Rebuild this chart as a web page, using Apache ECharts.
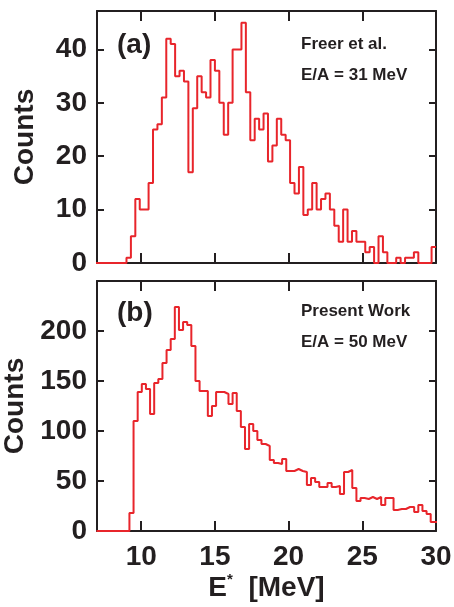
<!DOCTYPE html>
<html>
<head>
<meta charset="utf-8">
<script src="https://cdn.jsdelivr.net/npm/echarts@6/dist/echarts.min.js"></script>
<style>
  html, body { margin: 0; padding: 0; background: #fff; }
  #main { width: 454px; height: 607px; }
</style>
</head>
<body>
<div id="main"></div>
<script>
// x range shared by both panels
const xMin = 7
const xMax = 30
const xTicks = [10, 15, 20, 25, 30]

// panel (a): Freer et al., 0.3 MeV bins
const binStartA = 6.9
const binWidthA = 0.3
const countsA = [
  0, 0, 0, 0, 0, 0, 0,
  1, 5, 12, 10, 10, 15, 25, 26, 31, 42,
  41, 35, 36, 34, 17, 29, 35, 32, 31, 38,
  36, 30, 24, 30, 40, 40, 45, 32, 23, 27,
  25, 28, 19, 22, 27, 24, 23, 15, 13, 18,
  9, 10, 15, 10, 12, 13, 10, 7, 4, 10,
  4, 6, 4, 4, 2, 3, 0, 5, 2, 0,
  0, 1, 0, 1, 1, 2, 0, 0, 0, 3
]

// panel (b): present work, 0.28 MeV bins
const binStartB = 6.96
const binWidthB = 0.28
const countsB = [
  0, 0, 0, 0, 0, 0, 0, 0,
  18, 110, 139, 147, 142, 117, 148, 152, 168, 181,
  192, 224, 201, 209, 206, 185, 150, 140, 140, 115,
  125, 139, 139, 137, 127, 138, 120, 104, 82, 107,
  100, 91, 87, 85, 71, 68, 67, 72, 60, 60,
  62, 60, 59, 46, 53, 49, 44, 44, 48, 44,
  45, 37, 59, 61, 43, 30, 33, 32, 34, 32,
  34, 26, 33, 33, 21, 22, 22, 24, 24, 19,
  26, 20, 17, 9, 9
]

const yMaxA = 47.2
const yMaxB = 250

const ink = '#231f20'
const red = '#e8252b'
const font = 'Liberation Sans, Arial, sans-serif'

// left edge of every bin + closing point so the last step is drawn
function histPoints(start, width, counts) {
  const pts = counts.map((c, i) => [+(start + i * width).toFixed(3), c])
  pts.push([+(start + counts.length * width).toFixed(3), counts[counts.length - 1]])
  return pts
}

function xAxisFor(gridIndex, position, showLabels, name) {
  return {
    type: 'value',
    gridIndex,
    position,
    min: xMin,
    max: xMax,
    name: name || '',
    nameLocation: 'middle',
    nameGap: 36,
    nameTextStyle: {
      fontFamily: font, fontSize: 28, fontWeight: 'bold', color: ink,
      rich: {
        sup: { fontFamily: font, fontSize: 15, fontWeight: 'bold', color: ink, verticalAlign: 'top', padding: [0, 0, 18, 0] }
      }
    },
    axisLine: { show: true, onZero: false, lineStyle: { color: ink, width: 2 } },
    axisTick: { show: true, inside: true, length: 10, customValues: xTicks, lineStyle: { color: ink, width: 2 } },
    axisLabel: {
      show: showLabels, customValues: xTicks, margin: 12,
      fontFamily: font, fontSize: 28, fontWeight: 'bold', color: ink
    },
    splitLine: { show: false }
  }
}

function yAxisFor(gridIndex, position, showLabels, max, interval) {
  return {
    type: 'value',
    gridIndex,
    position,
    min: 0,
    max,
    interval,
    name: showLabels ? 'Counts' : '',
    nameLocation: 'middle',
    nameRotate: 90,
    nameGap: 58,
    nameTextStyle: { fontFamily: font, fontSize: 28, fontWeight: 'bold', color: ink },
    axisLine: { show: true, onZero: false, lineStyle: { color: ink, width: 2 } },
    axisTick: { show: true, inside: true, length: 7, lineStyle: { color: ink, width: 2 } },
    axisLabel: {
      show: showLabels, margin: 10, showMaxLabel: false,
      fontFamily: font, fontSize: 28, fontWeight: 'bold', color: ink
    },
    splitLine: { show: false }
  }
}

function label(x, y, text, size) {
  return {
    type: 'text',
    left: x,
    top: y,
    style: { text, fontFamily: font, fontSize: size, fontWeight: 'bold', fill: ink }
  }
}

const chart = echarts.init(document.getElementById('main'))

chart.setOption({
  animation: false,
  grid: [
    { left: 97, right: 18, top: 11, height: 252, outerBoundsMode: 'none', containLabel: false },
    { left: 97, right: 18, top: 281, height: 250, outerBoundsMode: 'none', containLabel: false }
  ],
  xAxis: [
    xAxisFor(0, 'bottom', false),
    xAxisFor(0, 'top', false),
    xAxisFor(1, 'bottom', true, 'E{sup|*}  [MeV]'),
    xAxisFor(1, 'top', false)
  ],
  yAxis: [
    yAxisFor(0, 'left', true, yMaxA, 10),
    yAxisFor(0, 'right', false, yMaxA, 10),
    yAxisFor(1, 'left', true, yMaxB, 50),
    yAxisFor(1, 'right', false, yMaxB, 50)
  ],
  graphic: [
    label(117, 31, '(a)', 28),
    label(301, 36, 'Freer et al.', 17),
    label(301, 67, 'E/A = 31 MeV', 17),
    label(117, 299, '(b)', 28),
    label(301, 303, 'Present Work', 17),
    label(301, 334, 'E/A = 50 MeV', 17)
  ],
  series: [
    {
      type: 'line',
      xAxisIndex: 0,
      yAxisIndex: 0,
      step: 'end',
      symbol: 'none',
      silent: true,
      clip: true,
      lineStyle: { color: red, width: 2 },
      data: histPoints(binStartA, binWidthA, countsA)
    },
    {
      type: 'line',
      xAxisIndex: 2,
      yAxisIndex: 2,
      step: 'end',
      symbol: 'none',
      silent: true,
      clip: true,
      lineStyle: { color: red, width: 2 },
      data: histPoints(binStartB, binWidthB, countsB)
    }
  ]
})
</script>
</body>
</html>
